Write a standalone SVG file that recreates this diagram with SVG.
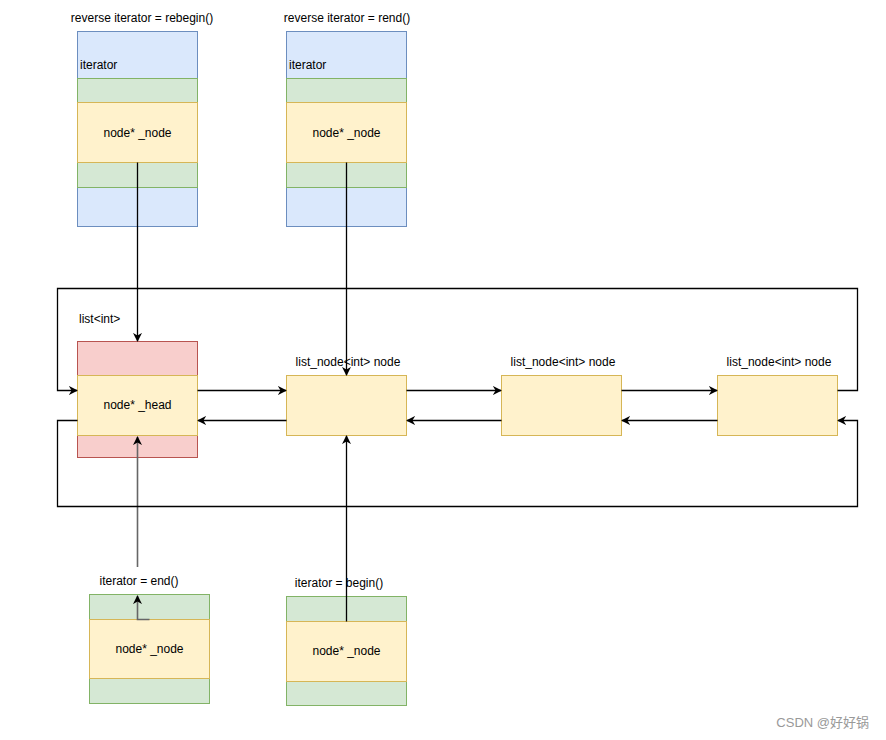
<svg xmlns="http://www.w3.org/2000/svg" width="886" height="740" viewBox="0 0 886 740">
<style>
text{font-family:"Liberation Sans",Arial,sans-serif;font-size:12px;fill:#000}
.c{text-anchor:middle}
.blue{fill:#dae8fc;stroke:#6c8ebf}
.green{fill:#d5e8d4;stroke:#82b366}
.yellow{fill:#fff2cc;stroke:#d6b656}
.red{fill:#f8cecc;stroke:#b85450}
.e{fill:none;stroke:#000;stroke-width:1.3}
.g{fill:none;stroke:#666;stroke-width:1.6}
</style>
<defs>
<marker id="a" viewBox="0 0 10 10" refX="9" refY="5" markerWidth="9" markerHeight="9" markerUnits="userSpaceOnUse" orient="auto">
<path d="M0,0 L10,5 L0,10 L3,5 z" fill="#000"/>
</marker>
</defs>
<rect width="886" height="740" fill="#fff"/>

<g id="rbegin">
<text class="c" x="142" y="22">reverse iterator = rebegin()</text>
<rect class="blue" x="77.5" y="31.5" width="120" height="195"/>
<rect class="green" x="77.5" y="78.5" width="120" height="24"/>
<rect class="green" x="77.5" y="162.5" width="120" height="25"/>
<rect class="yellow" x="77.5" y="102.5" width="120" height="60"/>
<text x="80" y="69">iterator</text>
<text class="c" x="137.5" y="137">node* _node</text>
</g>

<g id="rend">
<text class="c" x="347" y="22">reverse iterator = rend()</text>
<rect class="blue" x="286.5" y="31.5" width="120" height="195"/>
<rect class="green" x="286.5" y="78.5" width="120" height="24"/>
<rect class="green" x="286.5" y="162.5" width="120" height="25"/>
<rect class="yellow" x="286.5" y="102.5" width="120" height="60"/>
<text x="289" y="69">iterator</text>
<text class="c" x="346.5" y="137">node* _node</text>
</g>

<g id="head">
<text x="79" y="323">list&lt;int&gt;</text>
<rect class="red" x="77.5" y="341.5" width="120" height="116"/>
<rect class="yellow" x="77.5" y="375.5" width="120" height="60"/>
<text class="c" x="137.5" y="409">node* _head</text>
</g>

<g id="node1">
<text class="c" x="348" y="366">list_node&lt;int&gt; node</text>
<rect class="yellow" x="286.5" y="375.5" width="120" height="60"/>
</g>
<g id="node2">
<text class="c" x="563" y="366">list_node&lt;int&gt; node</text>
<rect class="yellow" x="501.5" y="375.5" width="120" height="60"/>
</g>
<g id="node3">
<text class="c" x="779" y="366">list_node&lt;int&gt; node</text>
<rect class="yellow" x="717.5" y="375.5" width="120" height="60"/>
</g>

<g id="end">
<text class="c" x="139" y="585">iterator = end()</text>
<rect class="green" x="89.5" y="594.5" width="120" height="109"/>
<rect class="yellow" x="89.5" y="619.5" width="120" height="59"/>
<text class="c" x="149.5" y="653">node* _node</text>
</g>

<g id="begin">
<text class="c" x="339" y="587">iterator = begin()</text>
<rect class="green" x="286.5" y="596.5" width="120" height="109"/>
<rect class="yellow" x="286.5" y="621.5" width="120" height="60"/>
<text class="c" x="346.5" y="655">node* _node</text>
</g>

<g id="connectors">
<path class="e" d="M137.5,162.5 V341" marker-end="url(#a)"/>
<path class="e" d="M346.5,162.5 V375" marker-end="url(#a)"/>
<path class="e" d="M346.5,621.5 V436" marker-end="url(#a)"/>
<path class="g" d="M137.5,567 V437" marker-end="url(#a)"/>
<path class="g" d="M149.5,619.5 H137.5 V596" marker-end="url(#a)"/>
<path class="e" d="M197.5,390.5 H286" marker-end="url(#a)"/>
<path class="e" d="M406.5,390.5 H501" marker-end="url(#a)"/>
<path class="e" d="M621.5,390.5 H717" marker-end="url(#a)"/>
<path class="e" d="M717.5,420.5 H622" marker-end="url(#a)"/>
<path class="e" d="M501.5,420.5 H407" marker-end="url(#a)"/>
<path class="e" d="M286.5,420.5 H198" marker-end="url(#a)"/>
<path class="e" d="M837.5,390.5 H857.5 V288.5 H57.5 V390.5 H77" marker-end="url(#a)"/>
<path class="e" d="M77.5,420.5 H57.5 V506.5 H857.5 V420.5 H838" marker-end="url(#a)"/>
</g>

<text x="869" y="727" style="font-size:13px;fill:#999;text-anchor:end;font-family:'Liberation Sans','Noto Sans CJK SC',sans-serif">CSDN @好好锅</text>
</svg>
